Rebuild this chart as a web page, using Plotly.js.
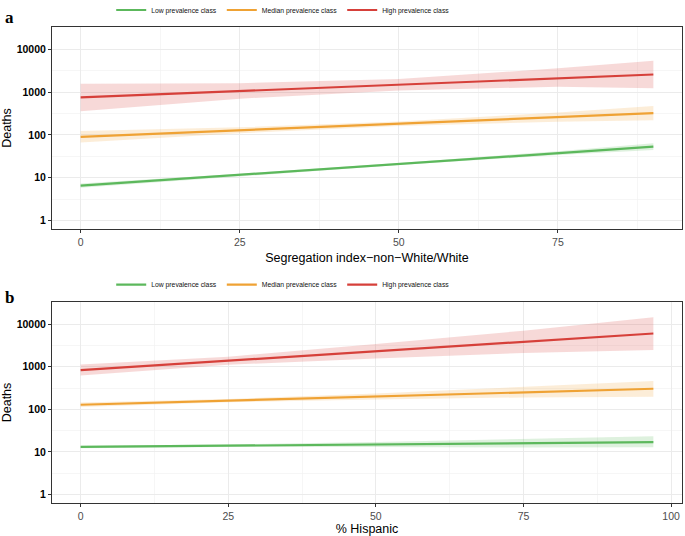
<!DOCTYPE html>
<html><head><meta charset="utf-8">
<script src="https://cdn.plot.ly/plotly-3.0.1.min.js"></script>
<style>html,body{margin:0;padding:0;background:#fff}</style>
</head><body><div id="chart" style="width:685px;height:536px"></div>
<script>
// ---- data ----
const classNames = ["Low prevalence class", "Median prevalence class", "High prevalence class"];

// Panel a: Segregation index (non-White/White)
const segX = [0, 25, 50, 75, 90];
const segLowFit   = [6.5, 11.6, 20.9, 37.4, 53];
const segLowUp    = [7.3, 12.4, 22.1, 41.5, 63.7];
const segLowLo    = [5.8, 10.8, 19.7, 33.7, 44.1];
const segMedFit   = [90, 128, 182, 260, 322];
const segMedUp    = [123, 150, 204, 335, 475];
const segMedLo    = [66, 109, 162, 202, 218];
const segHighFit  = [748, 1054, 1486, 2094, 2570];
const segHighUp   = [1564, 1608, 2027, 3584, 5380];
const segHighLo   = [358, 700, 1089, 1330, 1228];

// Panel b: % Hispanic
const hispX = [0, 25, 50, 75, 97];
const hispLowFit  = [13.1, 14.0, 14.9, 15.9, 16.9];
const hispLowUp   = [14.0, 15.0, 17.1, 20.0, 23.4];
const hispLowLo   = [12.2, 13.1, 13.0, 12.6, 12.8];
const hispMedFit  = [128, 160, 200, 250, 304];
const hispMedUp   = [144, 175, 235, 330, 460];
const hispMedLo   = [114, 146, 170, 190, 198];
const hispHighFit = [832, 1386, 2307, 3845, 6030];
const hispHighUp  = [1135, 1726, 3412, 7004, 14464];
const hispHighLo  = [625, 1113, 1560, 2111, 2463];

const yTickVals = [1, 10, 100, 1000, 10000];
const yTickText = ["1", "10", "100", "1000", "10000"];
const yMinorVals = [3.1623, 31.623, 316.23, 3162.3, 31623];

// ---- styles ----
const lineColors = ["#5CB85C", "#EFA234", "#D6403A"];
const bandColors = ["rgba(92,184,92,0.2)", "rgba(240,173,78,0.22)", "rgba(217,83,79,0.22)"];

const panelA = [[segLowFit, segLowUp, segLowLo], [segMedFit, segMedUp, segMedLo], [segHighFit, segHighUp, segHighLo]];
const panelB = [[hispLowFit, hispLowUp, hispLowLo], [hispMedFit, hispMedUp, hispMedLo], [hispHighFit, hispHighUp, hispHighLo]];

const traces = [];
function addPanel(xs, sets, xa, ya, legendId) {
  sets.forEach((s, i) => {
    const [fit, up, lo] = s;
    traces.push({x: xs, y: lo, xaxis: xa, yaxis: ya, mode: "lines", line: {width: 0, color: bandColors[i]},
      showlegend: false, hoverinfo: "skip"});
    traces.push({x: xs, y: up, xaxis: xa, yaxis: ya, mode: "lines", line: {width: 0, color: bandColors[i]},
      fill: "tonexty", fillcolor: bandColors[i], showlegend: false, hoverinfo: "skip"});
    traces.push({x: xs, y: fit, xaxis: xa, yaxis: ya, mode: "lines", name: classNames[i],
      line: {width: 2.2, color: lineColors[i]}, legend: legendId});
  });
}
addPanel(segX, panelA, "x", "y", "legend");
addPanel(hispX, panelB, "x2", "y2", "legend2");

const font = "Liberation Sans, Arial, Helvetica, sans-serif";
function xAxis(range, title, anchor) {
  return {
    anchor: anchor, range: range, tick0: 0, dtick: 25, zeroline: false,
    showline: true, mirror: true, linecolor: "#333333", linewidth: 1,
    ticks: "outside", ticklen: 3, tickcolor: "#333333", tickwidth: 1,
    tickfont: {family: font, size: 10.5, color: "#4D4D4D"},
    showgrid: true, gridcolor: "#EBEBEB", gridwidth: 1,
    minor: {dtick: 12.5, tick0: 0, showgrid: true, gridcolor: "#F2F2F2", gridwidth: 0.7, ticks: ""},
    title: {text: title, font: {family: font, size: 12.5, color: "#000"}, standoff: 6}
  };
}
function yAxis(domain, anchor) {
  return {
    anchor: anchor, domain: domain, type: "log", range: [-0.2, 4.52], zeroline: false,
    tickmode: "array", tickvals: yTickVals, ticktext: yTickText,
    showline: true, mirror: true, linecolor: "#333333", linewidth: 1,
    ticks: "outside", ticklen: 3, tickcolor: "#333333", tickwidth: 1,
    tickfont: {family: font, size: 10.5, color: "#000", weight: "bold"},
    showgrid: true, gridcolor: "#EBEBEB", gridwidth: 1,
    minor: {tickmode: "array", tickvals: yMinorVals, showgrid: true, gridcolor: "#F2F2F2", gridwidth: 0.7, ticks: ""},
    title: {text: "Deaths", font: {family: font, size: 12.5, color: "#000"}, standoff: 4}
  };
}
const legendBase = {
  orientation: "h", xanchor: "center", yanchor: "middle", x: 0.367,
  font: {family: font, size: 6.8, color: "#111"}, itemwidth: 30, bgcolor: "rgba(0,0,0,0)",
  traceorder: "normal"
};

const layout = {
  width: 685, height: 536,
  margin: {l: 52, r: 3, t: 27, b: 33, autoexpand: false},
  paper_bgcolor: "#fff", plot_bgcolor: "#fff",
  xaxis: xAxis([-4.5, 94.5], "Segregation index\u2212non\u2212White/White", "y"),
  yaxis: yAxis([0.5756, 1], "x"),
  xaxis2: xAxis([-4.85, 101.85], "% Hispanic", "y2"),
  yaxis2: yAxis([0, 0.4223], "x2"),
  legend: Object.assign({}, legendBase, {y: 1.0357}),
  legend2: Object.assign({}, legendBase, {y: 0.4586}),
  annotations: [
    {text: "<b>a</b>", xref: "paper", yref: "paper", x: -0.078, y: 1.019, xanchor: "left", yanchor: "middle",
     showarrow: false, font: {family: "Liberation Serif, Times New Roman, serif", size: 17, color: "#000"}},
    {text: "<b>b</b>", xref: "paper", yref: "paper", x: -0.078, y: 0.4307, xanchor: "left", yanchor: "middle",
     showarrow: false, font: {family: "Liberation Serif, Times New Roman, serif", size: 17, color: "#000"}}
  ],
  showlegend: true
};

Plotly.newPlot("chart", traces, layout, {displayModeBar: false, staticPlot: true});
</script></body></html>
